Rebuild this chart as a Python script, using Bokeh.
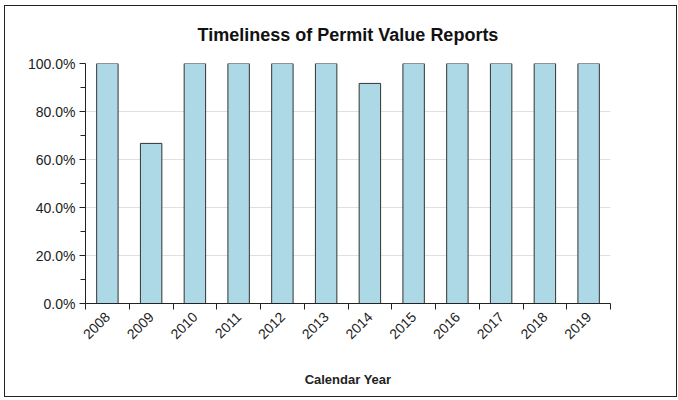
from bokeh.plotting import figure
from bokeh.models import FixedTicker, Range1d
from bokeh.embed import file_html
from bokeh.resources import INLINE

title_text = "Timeliness of Permit Value Reports"
years = ["2008", "2009", "2010", "2011", "2012", "2013", "2014", "2015", "2016", "2017", "2018", "2019"]
timeliness_pct = [100.0, 66.7, 100.0, 100.0, 100.0, 100.0, 91.7, 100.0, 100.0, 100.0, 100.0, 100.0]
y_ticks = [0, 20, 40, 60, 80, 100]
y_tick_labels = ["0.0%", "20.0%", "40.0%", "60.0%", "80.0%", "100.0%"]

x_centers = [i + 0.5 for i in range(len(years))]

p = figure(width=673, height=392, output_backend="svg", toolbar_location=None,
           x_range=Range1d(0, len(years)), y_range=Range1d(0, 100),
           min_border_left=80, min_border_right=68, min_border_top=57, min_border_bottom=95)

p.vbar(x=x_centers, top=timeliness_pct, width=0.49, fill_color="#ADD8E6",
       line_color="#333333", line_width=1)

p.title.text = title_text
p.title.align = "center"
p.title.vertical_align = "top"
p.title.standoff = 33
p.title.text_font = "Liberation Sans"
p.title.text_font_size = "18px"
p.title.text_font_style = "bold"
p.title.text_color = "#111111"

p.outline_line_color = None
p.background_fill_color = "white"
p.border_fill_color = "white"
p.styles = {"border": "1px solid #222222", "margin-left": "4px", "margin-top": "5px"}

# x axis
xa = p.xaxis[0]
xa.ticker = FixedTicker(ticks=x_centers, minor_ticks=list(range(len(years) + 1)))
xa.major_label_overrides = {c: y for c, y in zip(x_centers, years)}
xa.major_tick_line_color = None
xa.major_tick_out = 0
xa.minor_tick_out = 6
xa.minor_tick_in = 0
xa.minor_tick_line_color = "#222222"
xa.axis_line_color = "#222222"
xa.major_label_orientation = 0.785398
xa.major_label_text_font = "Liberation Sans"
xa.major_label_text_font_size = "14px"
xa.major_label_text_color = "#222222"
xa.major_label_standoff = 5
xa.axis_label = "Calendar Year"
xa.axis_label_text_font = "Liberation Sans"
xa.axis_label_text_font_size = "13px"
xa.axis_label_text_font_style = "bold"
xa.axis_label_text_color = "#222222"
xa.axis_label_standoff = 25

# y axis
ya = p.yaxis[0]
ya.ticker = FixedTicker(ticks=y_ticks, minor_ticks=[10, 30, 50, 70, 90])
ya.major_label_overrides = {t: l for t, l in zip(y_ticks, y_tick_labels)}
ya.major_tick_out = 6
ya.major_tick_in = 0
ya.minor_tick_out = 5
ya.minor_tick_in = 0
ya.major_tick_line_color = "#222222"
ya.minor_tick_line_color = "#222222"
ya.axis_line_color = "#222222"
ya.major_label_text_font = "Liberation Sans"
ya.major_label_text_font_size = "14px"
ya.major_label_text_color = "#222222"
ya.major_label_standoff = 4

p.xgrid.grid_line_color = None
p.ygrid.ticker = FixedTicker(ticks=y_ticks)
p.ygrid.grid_line_color = "#e0e0e0"

open("out.html", "w").write(file_html(p, INLINE))
